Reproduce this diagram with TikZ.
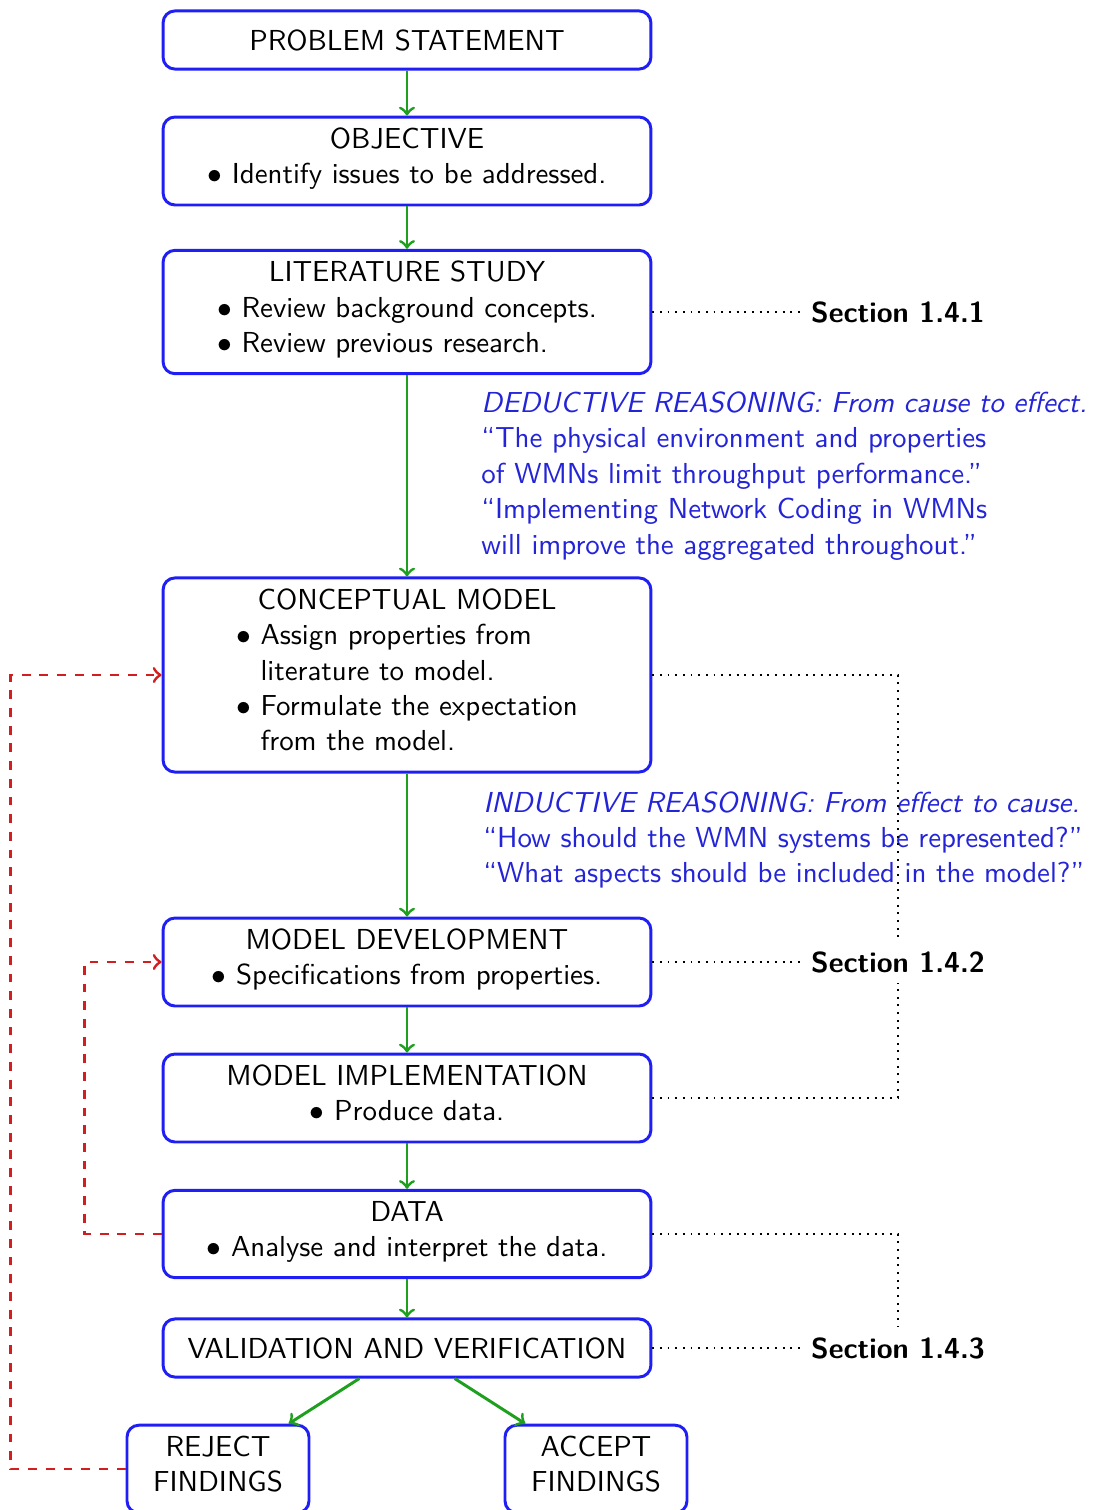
\documentclass[tikz,border=0pt]{standalone}
\renewcommand{\familydefault}{\sfdefault}
\definecolor{cblue}{RGB}{30,30,245}
\definecolor{cgreen}{RGB}{30,160,30}
\definecolor{cred}{RGB}{210,30,30}
\definecolor{ctext}{RGB}{35,35,215}
\newcommand{\flowfont}{\fontsize{9.8}{12}\selectfont}
\tikzset{flowpx/.style={x=0.011914cm,y=-0.011914cm,every node/.style={font=\flowfont}},
  stage/.style={draw=cblue,line width=1pt,rounded corners=4pt,align=center,minimum width=165.4pt,
    minimum height=19.7pt,inner xsep=4pt,inner ysep=3.6pt},
  detail/.style={stage,execute at begin node=\strut},
  outcome/.style={detail,minimum width=61.7pt},
  flow/.style={cgreen,line width=1pt,->},
  loopback/.style={cred,line width=1pt,dashed,->},
  seclink/.style={semithick,dotted},
  seclabel/.style={font=\flowfont\bfseries},
  reasoning/.style={ctext,align=left,anchor=west}}

\begin{document}
\begin{tikzpicture}[flowpx]
    \useasboundingbox (0,0) rectangle (1092,1510);
    \node[stage] (problem) at (407,40) {PROBLEM STATEMENT};
    \node[detail] (objective) at (407,161) {OBJECTIVE\\$\bullet$ Identify issues to be addressed.\strut};
    \node[detail] (literature) at (407,312) {LITERATURE STUDY\\
      \begin{tabular}[t]{@{}l@{}}$\bullet$ Review background concepts.\\$\bullet$ Review previous research.\end{tabular}};
    \node[detail] (concept) at (407,675) {CONCEPTUAL MODEL\\
      \begin{tabular}[t]{@{}l@{\ }l@{}}$\bullet$ & Assign properties from\\ & literature to model.\\
      $\bullet$ & Formulate the expectation\\ & from the model.\end{tabular}};
    \node[detail] (mdev) at (407,962) {MODEL DEVELOPMENT\\$\bullet$ Specifications from properties.\strut};
    \node[detail] (mimpl) at (407,1098) {MODEL IMPLEMENTATION\\$\bullet$ Produce data.\strut};
    \node[detail] (data) at (407,1234) {DATA\\$\bullet$ Analyse and interpret the data.\strut};
    \node[stage] (valid) at (407,1348) {VALIDATION AND VERIFICATION};
    \node[outcome] (reject) at (218,1469) {REJECT\\FINDINGS\strut};
    \node[outcome] (accept) at (596,1469) {ACCEPT\\FINDINGS\strut};
    % reasoning notes
    \node[reasoning] (deduct) at (471,476) {\textit{DEDUCTIVE REASONING: From cause to effect.}\\
      ``The physical environment and properties\\of WMNs limit throughput performance.''\\
      ``Implementing Network Coding in WMNs\\will improve the aggregated throughout.''};
    \node[reasoning] (induct) at (473,840) {\textit{INDUCTIVE REASONING: From effect to cause.}\\
      ``How should the WMN systems be represented?''\\``What aspects should be included in the model?''};
    % sections
    \node[seclabel] (sec1) at (898,312) {Section 1.4.1};
    \node[seclabel] (sec2) at (898,962) {Section 1.4.2};
    \node[seclabel] (sec3) at (898,1348) {Section 1.4.3};
    \draw[seclink] (literature.east) -- (sec1.west);
    \draw[seclink] (concept.east) -| (sec2.north);
    \draw[seclink] (mdev.east) -- (sec2.west);
    \draw[seclink] (mimpl.east) -| (sec2.south);
    \draw[seclink] (data.east) -| (sec3.north);
    \draw[seclink] (valid.east) -- (sec3.west);
    \foreach \a/\b in {problem/objective,objective/literature,literature/concept,concept/mdev,
      mdev/mimpl,mimpl/data,data/valid,valid/reject,valid/accept}
      \draw[flow] (\a) -- (\b);
    \draw[loopback] (data.west) -- ++(-77,0) |- (mdev.west);
    \draw[loopback] (reject.west) -- ++(-115,0) |- (concept.west);
\end{tikzpicture}
\end{document}
